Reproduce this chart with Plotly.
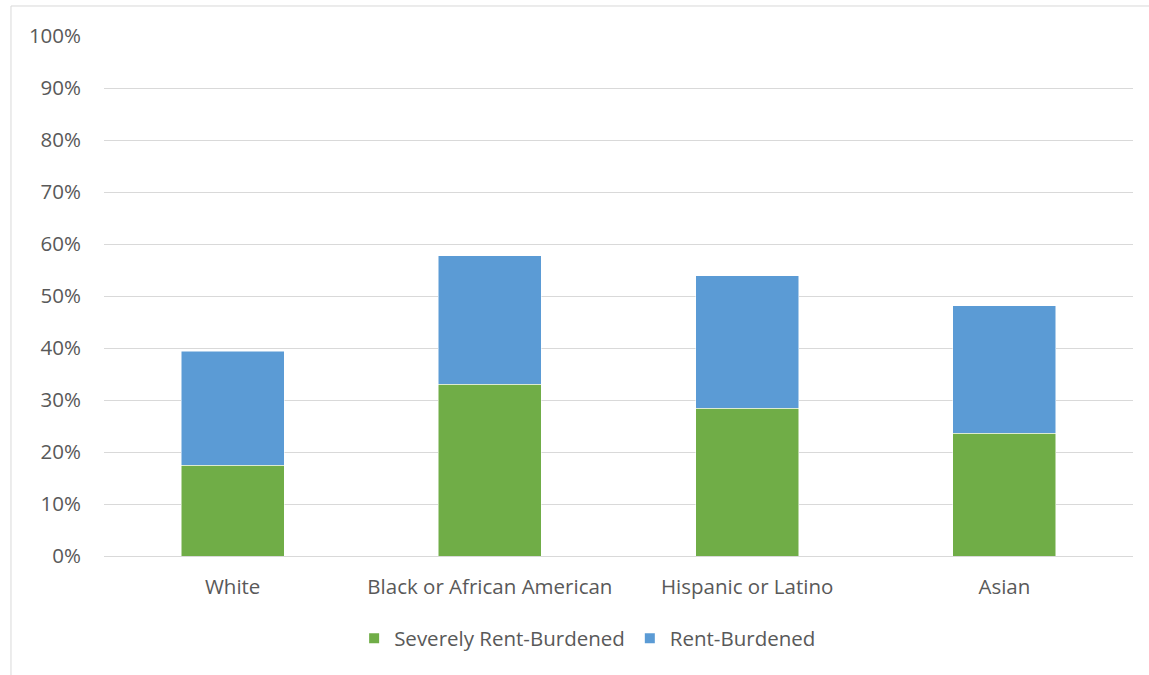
import plotly.graph_objects as go

# Share of renter households by cost burden, by race/ethnicity
categories = ["White", "Black or African American", "Hispanic or Latino", "Asian"]
severely_rent_burdened = [17.5, 33.0, 28.4, 23.6]
rent_burdened = [21.9, 24.7, 25.5, 24.5]
tick_values = [0, 10, 20, 30, 40, 50, 60, 70, 80, 90, 100]
tick_labels = [f"{v}%" for v in tick_values]

FONT = "Open Sans"
FONT_SIZE = 20.5
TEXT_COLOR = "#595959"
GRID_COLOR = "#d9d9d9"

fig = go.Figure()
fig.add_trace(go.Bar(
    name="Severely Rent-Burdened",
    x=categories,
    y=severely_rent_burdened,
    marker=dict(color="#70ad47", line=dict(color="#ffffff", width=0.5)),
))
fig.add_trace(go.Bar(
    name="Rent-Burdened",
    x=categories,
    y=rent_burdened,
    marker=dict(color="#5b9bd5", line=dict(color="#ffffff", width=0.5)),
))

fig.update_layout(
    barmode="stack",
    bargap=0.6,
    width=1149,
    height=675,
    margin=dict(l=104, r=16, t=36, b=119),
    paper_bgcolor="white",
    plot_bgcolor="white",
    font=dict(family=FONT, size=FONT_SIZE, color=TEXT_COLOR),
    showlegend=True,
    legend=dict(
        orientation="h",
        x=0.47,
        xanchor="center",
        y=-0.12,
        yanchor="top",
        font=dict(family=FONT, size=FONT_SIZE, color=TEXT_COLOR),
        itemsizing="constant",
        traceorder="normal",
    ),
    xaxis=dict(
        showgrid=False,
        showline=False,
        ticks="",
        ticklabelstandoff=16,
        tickfont=dict(family=FONT, size=FONT_SIZE, color=TEXT_COLOR),
    ),
    yaxis=dict(
        range=[0, 100],
        tickvals=tick_values,
        ticktext=tick_labels,
        showgrid=True,
        gridcolor=GRID_COLOR,
        gridwidth=1,
        zeroline=True,
        zerolinecolor=GRID_COLOR,
        zerolinewidth=1,
        showline=False,
        ticks="",
        ticklabelstandoff=22,
        tickfont=dict(family=FONT, size=FONT_SIZE, color=TEXT_COLOR),
    ),
    shapes=[
        # chart-area outline (left and top edges)
        dict(type="line", xref="paper", yref="paper",
             x0=-0.0904, x1=-0.0904, y0=1.0577, y1=-0.3,
             line=dict(color=GRID_COLOR, width=1)),
        dict(type="line", xref="paper", yref="paper",
             x0=-0.0904, x1=1.05, y0=1.0577, y1=1.0577,
             line=dict(color=GRID_COLOR, width=1)),
    ],
)

fig.write_html("out.html")
